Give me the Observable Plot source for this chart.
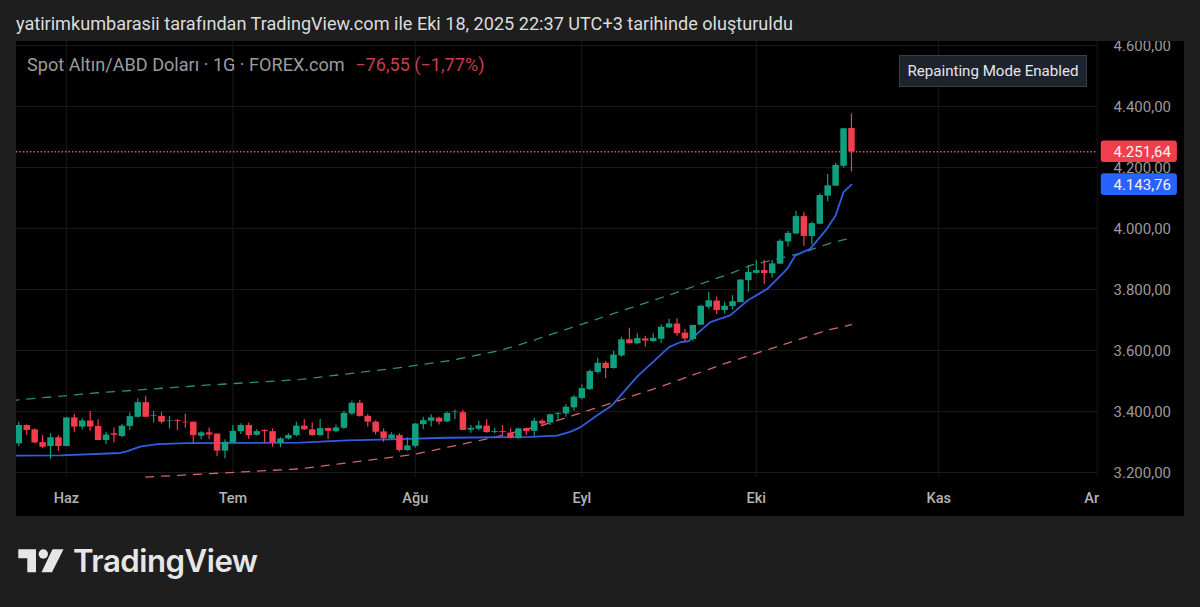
<!DOCTYPE html>
<html lang="tr">
<head>
<meta charset="utf-8">
<script src="https://cdn.jsdelivr.net/npm/d3@7"></script>
<script src="https://cdn.jsdelivr.net/npm/@observablehq/plot@0.6"></script>
<style>
html,body{margin:0;padding:0;width:1200px;height:607px;overflow:hidden;background:#1e1e1e;font-family:Roboto,sans-serif}
#title{position:absolute;left:16px;top:13px;font-size:18.1px;line-height:21px;color:#dcdcdc;white-space:nowrap}
#chart{position:absolute;left:16px;top:41px;width:1168px;height:475px}
#chart svg{display:block;overflow:hidden}
#sub{position:absolute;left:27px;top:54px;font-size:18.1px;line-height:21px;color:#9c9c9c;white-space:nowrap}
#sub span{color:#c83e49;margin-left:6px}
#btn{position:absolute;left:899px;top:55px;width:186px;height:30px;line-height:30px;text-align:center;background:#1e222d;border:1px solid #3a3e4a;color:#e4e6ea;font-size:15.1px;white-space:nowrap}
#logoMark{position:absolute;left:0;top:530px}
#logoText{position:absolute;left:73px;top:541px;font-family:Inter,sans-serif;font-weight:600;font-size:31.2px;line-height:40px;letter-spacing:-.5px;color:#e6e6e6;white-space:nowrap}
</style>
</head>
<body>
<div id="title">yatirimkumbarasii tarafından TradingView.com ile Eki 18, 2025 22:37 UTC+3 tarihinde oluşturuldu</div>
<div id="chart"></div>
<div id="sub">Spot Altın/ABD Doları · 1G · FOREX.com <span>−76,55 (−1,77%)</span></div>
<div id="btn">Repainting Mode Enabled</div>
<svg id="logoMark" width="70" height="50"><path fill="#e6e6e6" d="M18.3 19.3H36V42.3H27.3V28.3H18.3Z"/><circle fill="#e6e6e6" cx="43.3" cy="24" r="4.7"/><path fill="#e6e6e6" d="M52.5 19.3H63.5L52 42.3H41.5Z"/></svg>
<div id="logoText">TradingView</div>
<script>
const opens = [3294,3354,3340,3298,3285,3314,3285,3379,3349,3369,3351,3305,3327,3318,3351,3381,3429,3384,3384,3367,3370,3365,3365,3319,3330,3326,3270,3297,3334,3354,3322,3338,3334,3296,3310,3321,
3352,3340,3321,3344,3334,3345,3392,3427,3384,3365,3333,3310,3321,3272,3286,3357,3368,3378,3366,3396,3396,3339,3342,3352,3331,3334,3329,3311,3344,3335,3368,3362,3391,
3392,3412,3443,3472,3528,3558,3541,3582,3635,3622,3638,3629,3637,3674,3687,3657,3636,3683,3742,3762,3731,3744,3757,3829,3853,3862,3852,3883,3956,3982,4039,3974,4014,4106,4139,4204,4328];
const highs = [3365,3356,3343,3321,3327,3321,3379,3390,3376,3400,3373,3332,3346,3357,3396,3441,3450,3401,3397,3384,3373,3392,3365,3334,3346,3326,3307,3354,3360,3362,3340,3340,3343,3314,3327,3365,
3373,3363,3374,3346,3356,3401,3434,3436,3390,3370,3343,3330,3327,3314,3360,3381,3389,3381,3398,3405,3403,3354,3368,3373,3345,3354,3343,3345,3346,3376,3373,3392,3396,
3422,3452,3487,3536,3575,3564,3597,3644,3673,3655,3647,3655,3684,3702,3704,3669,3683,3748,3790,3775,3758,3780,3832,3879,3895,3895,3895,3963,3990,4056,4053,4021,4114,4177,4214,4328,4376];
const lows = [3285,3321,3294,3278,3243,3269,3285,3332,3340,3335,3305,3292,3297,3314,3338,3379,3381,3362,3359,3343,3338,3345,3296,3307,3307,3252,3245,3296,3325,3308,3320,3294,3283,3281,3307,3316,
3338,3319,3319,3308,3332,3342,3387,3381,3349,3323,3299,3307,3267,3270,3280,3341,3349,3356,3363,3373,3338,3329,3338,3329,3327,3319,3310,3310,3321,3319,3354,3354,3370,
3381,3401,3438,3469,3523,3508,3539,3578,3622,3619,3611,3627,3624,3673,3647,3627,3630,3682,3735,3718,3720,3733,3757,3791,3851,3816,3837,3882,3939,3980,3942,3946,4012,4088,4138,4198,4185];
const closes = [3354,3338,3297,3283,3314,3285,3379,3349,3369,3349,3305,3323,3322,3352,3383,3429,3381,3386,3365,3369,3367,3363,3321,3330,3323,3270,3299,3335,3354,3321,3334,3334,3297,3310,3321,3352,
3340,3321,3344,3335,3346,3394,3427,3384,3365,3332,3311,3323,3272,3287,3359,3370,3379,3365,3394,3398,3338,3345,3353,3331,3334,3331,3312,3343,3334,3368,3359,3389,3394,
3414,3447,3475,3531,3558,3541,3585,3635,3622,3639,3631,3640,3676,3687,3655,3638,3682,3745,3763,3731,3745,3760,3831,3856,3862,3852,3884,3958,3984,4039,3974,4016,4108,4140,4207,4327,4251.64];

const blueDays = [-1,5.3,12.8,13.7,15.3,17.5,21.2,35.5,41.4,45.6,54,64.5,67.9,69.6,70.8,72.9,74.8,78,82,83.4,84.5,87.2,89.7,91.9,94.4,96.9,97.9,99.8,101.9,103,104,105];
const blueValues = [3255,3256,3264,3270,3285,3293,3296,3298,3305,3308,3314,3317,3321,3334,3348,3387,3420,3515,3611,3627,3631,3693,3715,3764,3802,3868,3911,3933,3999,4043,4119,4143.76];
const upperDays = [-1,10.3,22.9,35.5,48.1,54.4,60.7,64.5,82.5,90.1,92.3,96.4,98.6,102.7,105];
const upperValues = [3436,3462,3485,3505,3544,3567,3600,3630,3786,3856,3879,3905,3919,3955,3969];
const lowerDays = [16,35.5,45.6,49.8,54.1,59.9,65.9,69.9,75,81.3,88.9,101.9,105];
const lowerValues = [3185,3212,3245,3259,3283,3315,3354,3387,3430,3485,3556,3666,3685];

const monthTicks = [6,27,50,71,93,116,135.3];
const monthNames = ["Haz","Tem","Ağu","Eyl","Eki","Kas","Ar"];
const priceTicks = [3200,3400,3600,3800,4000,4200,4400,4600];
const lastPrice = 4251.64;
const maPrice = 4143.76;

const GREEN = "#10a07f", RED = "#f23d4f", BLUE = "#2962ff";
const candles = opens.map((o,i)=>({i,o,h:highs[i],l:lows[i],c:closes[i]}));
const zip = (xs,ys)=>xs.map((x,k)=>({x,y:ys[k]}));
const fmt = d3.formatLocale({decimal:",",thousands:".",grouping:[3],currency:["",""]}).format(",.2f");
const candleColor = d=>d.c>=d.o?GREEN:RED;
const tags = [{v:lastPrice,f:RED},{v:maPrice,f:BLUE}];

const plot = Plot.plot({
  width:1168,height:475,marginLeft:0,marginRight:87,marginTop:0,marginBottom:39,
  style:{background:"#000",fontFamily:"Roboto,sans-serif"},
  x:{domain:[0,136],range:[2.3,1080.8]},
  y:{domain:[3200,4600],range:[431,4]},
  marks:[
    Plot.ruleY(priceTicks,{stroke:"#191919",strokeWidth:1}),
    Plot.ruleX(monthTicks.slice(0,6),{y1:3184,y2:4613,stroke:"#191919",strokeWidth:1}),
    Plot.ruleX([136],{y1:3184,y2:4613,stroke:"#141414",strokeWidth:1}),
    Plot.ruleY([lastPrice],{stroke:"#f0505c",strokeWidth:1.3,strokeDasharray:"1.5 2"}),
    Plot.line(zip(upperDays,upperValues),{x:"x",y:"y",stroke:"#2f8d78",strokeWidth:1.3,strokeDasharray:"8 8"}),
    Plot.line(zip(lowerDays,lowerValues),{x:"x",y:"y",stroke:"#d2656a",strokeWidth:1.3,strokeDasharray:"8 8"}),
    Plot.line(zip(blueDays,blueValues),{x:"x",y:"y",stroke:"#2f5fe0",strokeWidth:1.8}),
    Plot.ruleX(candles,{x:"i",y1:"l",y2:"h",stroke:candleColor,strokeWidth:1.2}),
    Plot.ruleX(candles,{x:"i",y1:"o",y2:"c",stroke:candleColor,strokeWidth:6.5}),
    Plot.axisY(priceTicks,{anchor:"right",tickSize:0,tickPadding:16,tickFormat:fmt,fontSize:15,color:"#9a9a9a",label:null,textAnchor:"start",dy:0.5}),
    Plot.axisX(monthTicks,{anchor:"bottom",tickSize:0,tickPadding:15,tickFormat:(d,k)=>monthNames[k],fontSize:14.5,fontWeight:500,color:"#b4b4b4",label:null}),
    Plot.rect(tags,{x1:136.5,x2:146.1,y1:d=>d.v-35.4,y2:d=>d.v+35.4,fill:"f",rx:3}),
    Plot.text(tags,{x:138.04,y:"v",text:d=>fmt(d.v),fill:"#f4f4f4",fontSize:15,textAnchor:"start",dy:0.5})
  ]
});
document.getElementById("chart").appendChild(plot);
</script>
</body>
</html>
